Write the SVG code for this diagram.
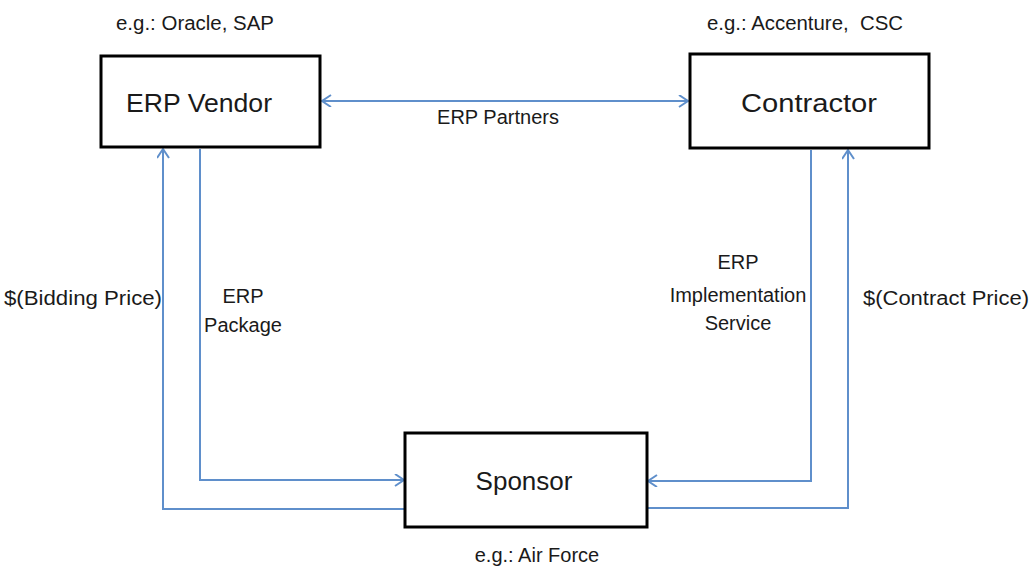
<svg xmlns="http://www.w3.org/2000/svg" width="1032" height="570" viewBox="0 0 1032 570">
  <style>
    .box { fill: #ffffff; stroke: #000000; stroke-width: 3; }
    .title { font-family: "Liberation Sans", Arial, sans-serif; font-size: 26px; fill: #1a1a1a; text-anchor: middle; }
    .lbl { font-family: "Liberation Sans", Arial, sans-serif; font-size: 20px; fill: #1a1a1a; text-anchor: middle; }
    .flow { fill: none; stroke: #5f8fcb; stroke-width: 2; }
  </style>
  <defs>
    <marker id="open" markerUnits="userSpaceOnUse" markerWidth="14" markerHeight="14" refX="10" refY="6" orient="auto-start-reverse">
      <path d="M1,0 L10,6 L1,12" fill="none" stroke="#5f8fcb" stroke-width="2"/>
    </marker>
  </defs>

  <!-- connectors -->
  <g id="connectors">
    <line class="flow" x1="322" y1="101" x2="688" y2="101" marker-start="url(#open)" marker-end="url(#open)"/>
    <polyline class="flow" points="405,509 163,509 163,149" marker-end="url(#open)"/>
    <polyline class="flow" points="200,149 200,480 404,480" marker-end="url(#open)"/>
    <polyline class="flow" points="811,150 811,481 648,481" marker-end="url(#open)"/>
    <polyline class="flow" points="647,508 848,508 848,150" marker-end="url(#open)"/>
  </g>

  <!-- connector labels -->
  <g id="labels">
    <text class="lbl" x="498" y="124">ERP Partners</text>
    <text class="lbl" x="83" y="305" textLength="158" lengthAdjust="spacingAndGlyphs">$(Bidding Price)</text>
    <text class="lbl" x="243" y="303">ERP</text>
    <text class="lbl" x="243" y="332">Package</text>
    <text class="lbl" x="738" y="269">ERP</text>
    <text class="lbl" x="738" y="302">Implementation</text>
    <text class="lbl" x="738" y="330">Service</text>
    <text class="lbl" x="946" y="305" textLength="166" lengthAdjust="spacingAndGlyphs">$(Contract Price)</text>
  </g>

  <g id="erp-vendor">
    <rect class="box" x="101" y="56" width="219" height="91"/>
    <text class="title" x="199" y="112" textLength="146" lengthAdjust="spacingAndGlyphs">ERP Vendor</text>
    <text class="lbl" x="195" y="30" textLength="158" lengthAdjust="spacingAndGlyphs">e.g.: Oracle, SAP</text>
  </g>

  <g id="contractor">
    <rect class="box" x="690" y="54" width="239" height="94"/>
    <text class="title" x="809" y="112" textLength="136" lengthAdjust="spacingAndGlyphs">Contractor</text>
    <text class="lbl" x="805" y="30" textLength="196" lengthAdjust="spacingAndGlyphs">e.g.: Accenture,&#160; CSC</text>
  </g>

  <g id="sponsor">
    <rect class="box" x="405" y="433" width="242" height="94"/>
    <text class="title" x="524" y="490">Sponsor</text>
    <text class="lbl" x="537" y="562">e.g.: Air Force</text>
  </g>
</svg>
